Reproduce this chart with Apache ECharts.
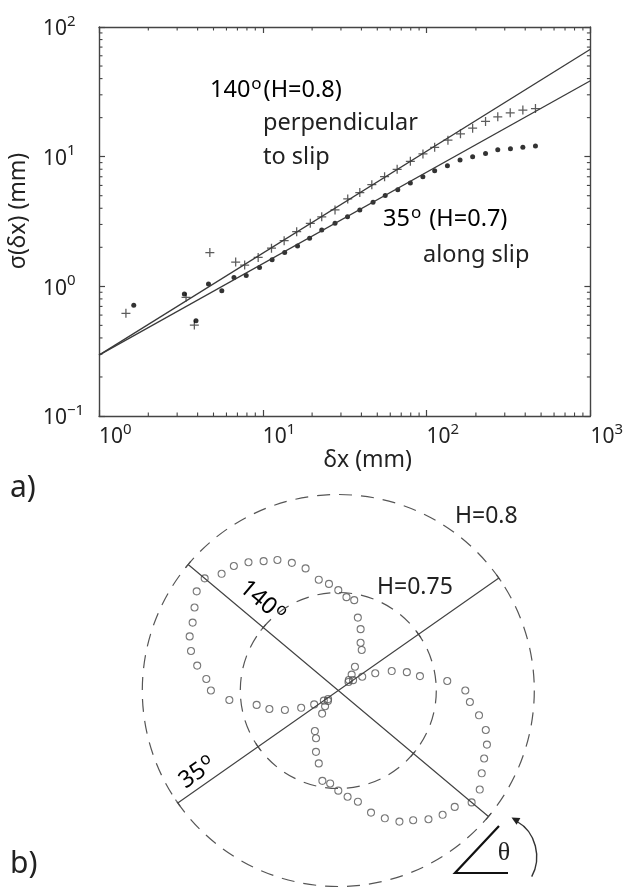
<!DOCTYPE html>
<html><head><meta charset="utf-8">
<script src="https://cdn.jsdelivr.net/npm/echarts@6/dist/echarts.min.js"></script>
<style>html,body{margin:0;padding:0;background:#fff}#c{width:626px;height:891px}</style>
</head><body><div id="c"></div>
<script>
// ---------- Panel a data ----------
const dx140 = [1.46, 3.40, 3.82, 4.75, 6.83, 7.75, 9.37, 11.3, 13.5, 16.1, 19.5, 22.9, 27.6, 33.0, 39.1, 46.3, 55.4, 66.1, 79.6, 95.0, 112, 135, 161, 191, 229, 272, 324, 387, 462];
const sig140 = [0.619, 0.823, 0.503, 1.82, 1.54, 1.46, 1.67, 1.97, 2.25, 2.64, 3.06, 3.44, 3.88, 4.72, 5.29, 6.08, 7.01, 7.99, 9.21, 10.5, 11.8, 13.4, 15.0, 16.6, 18.7, 20.3, 21.8, 22.9, 23.5];
const dx35 = [1.63, 3.32, 3.91, 4.66, 5.62, 6.67, 7.92, 9.55, 11.4, 13.6, 16.3, 19.3, 22.9, 27.6, 32.9, 39.1, 47.1, 55.9, 66.7, 79.6, 94.9, 112, 134, 160, 191, 229, 272, 325, 387, 462];
const sig35 = [0.714, 0.873, 0.543, 1.04, 0.925, 1.17, 1.21, 1.40, 1.60, 1.82, 2.05, 2.35, 2.72, 3.06, 3.44, 3.88, 4.45, 5.02, 5.56, 6.26, 7.01, 7.78, 8.52, 9.42, 9.99, 10.6, 11.3, 11.5, 11.8, 12.1];
const fit140 = [[1, 0.295], [1000, 67.3]];   // H = 0.8 line
const fit35 = [[1, 0.295], [1000, 38.5]];    // H = 0.7 line
const xMinorTicks = [2,3,4,5,6,7,8,9,20,30,40,50,60,70,80,90,200,300,400,500,600,700,800,900];
const yMinorTicks = [0.2,0.3,0.4,0.5,0.6,0.7,0.8,0.9,2,3,4,5,6,7,8,9,20,30,40,50,60,70,80,90];

// ---------- Panel b data ----------
const thetaDeg = [0,5,10,15,20,25,30,35,40,45,50,55,60,65,70,75,80,85,90,95,100,105,110,115,120,125,130,135,140,145,150,155,160,165,170,175,
                  180,185,190,195,200,205,210,215,220,225,230,235,240,245,250,255,260,265,270,275,280,285,290,295,300,305,310,315,320,325,330,335,340,345,350,355];
const hTheta = [0.7648,0.7558,0.7423,0.7362,0.7290,0.7208,0.7141,0.7092,0.7068,0.7076,0.7106,0.7148,0.7239,0.7269,0.7333,0.7385,0.7468,0.7478,
                0.7512,0.7546,0.7574,0.7645,0.7693,0.7735,0.7762,0.7799,0.7829,0.7842,0.7890,0.7882,0.7847,0.7820,0.7807,0.7778,0.7731,0.7676,
                0.7650,0.7558,0.7423,0.7364,0.7290,0.7209,0.7142,0.7090,0.7068,0.7075,0.7105,0.7144,0.7239,0.7269,0.7333,0.7385,0.7468,0.7476,
                0.7511,0.7544,0.7576,0.7645,0.7694,0.7738,0.7764,0.7802,0.7828,0.7840,0.7888,0.7881,0.7845,0.7821,0.7807,0.7779,0.7729,0.7674];
const hMin = 0.7, hMid = 0.75, hMax = 0.8;
const slipAngles = [35, 140];

// ---------- styling ----------
const FONT = 'Noto Sans';
const AX = '#444';
const supRich = {
  b: {fontSize: 21, fontFamily: FONT, color: '#222', lineHeight: 26, verticalAlign: 'bottom'},
  s: {fontSize: 15, fontFamily: FONT, color: '#222', lineHeight: 18, verticalAlign: 'top'}
};
function powLabel(v) {
  const e = Math.round(Math.log10(v));
  return '{b|10}{s|' + (e < 0 ? '\u2212' + (-e) : e) + '}';
}
const plusPath = 'path://M4.3,0H5.7V4.3H10V5.7H5.7V10H4.3V5.7H0V4.3H4.3Z';

function zip(a, b) { return a.map((v, i) => [v, b[i]]); }

function minorXRender(params, api) {
  const cs = params.coordSys;
  const x = api.coord([api.value(0), api.value(1)])[0];
  const st = {stroke: AX, lineWidth: 1.1};
  return {type: 'group', children: [
    {type: 'line', shape: {x1: x, y1: cs.y + cs.height, x2: x, y2: cs.y + cs.height - 3.5}, style: st},
    {type: 'line', shape: {x1: x, y1: cs.y, x2: x, y2: cs.y + 3.5}, style: st}
  ]};
}
function minorYRender(params, api) {
  const cs = params.coordSys;
  const y = api.coord([api.value(0), api.value(1)])[1];
  const st = {stroke: AX, lineWidth: 1.1};
  return {type: 'group', children: [
    {type: 'line', shape: {x1: cs.x, y1: y, x2: cs.x + 3.5, y2: y}, style: st},
    {type: 'line', shape: {x1: cs.x + cs.width, y1: y, x2: cs.x + cs.width - 3.5, y2: y}, style: st}
  ]};
}

const logX = {type: 'log', logBase: 10, min: 1, max: 1000, gridIndex: 0};
const logY = {type: 'log', logBase: 10, min: 0.1, max: 100, gridIndex: 0};
const axLine = {show: true, lineStyle: {color: AX, width: 1.4}};
const axTick = {show: true, inside: true, length: 6, lineStyle: {color: AX, width: 1.2}};

const degRich = {
  n: {fontSize: 23.5, fontFamily: FONT, color: '#222'},
  d: {fontSize: 17, fontFamily: FONT, color: '#222', padding: [0, 2, 12, 1]}
};

const option = {
  backgroundColor: '#fff',
  animation: false,
  grid: [{left: 99, right: 32, top: 27, bottom: 475, containLabel: false}],
  xAxis: [
    Object.assign({}, logX, {
      position: 'bottom', axisLine: axLine, axisTick: axTick, splitLine: {show: false},
      axisLabel: {show: true, formatter: powLabel, rich: supRich, margin: 6, align: 'left',
                  showMinLabel: true, showMaxLabel: true, hideOverlap: false},
      name: '\u03B4x (mm)', nameLocation: 'middle', nameGap: 33,
      nameTextStyle: {fontSize: 23, fontFamily: FONT, color: '#222', padding: [0, 0, 0, 46]}
    }),
    Object.assign({}, logX, {
      position: 'top', axisLine: axLine, axisTick: axTick, splitLine: {show: false}, axisLabel: {show: false}
    })
  ],
  yAxis: [
    Object.assign({}, logY, {
      position: 'left', axisLine: axLine, axisTick: axTick, splitLine: {show: false},
      axisLabel: {show: true, formatter: powLabel, rich: supRich, margin: 56, align: 'left',
                  showMinLabel: true, showMaxLabel: true, hideOverlap: false}
    }),
    Object.assign({}, logY, {
      position: 'right', axisLine: axLine, axisTick: axTick, splitLine: {show: false}, axisLabel: {show: false}
    })
  ],
  polar: {center: [338.3, 690.5], radius: 196},
  angleAxis: {type: 'value', min: 0, max: 360, startAngle: 0, clockwise: false,
              axisLine: {show: false}, axisTick: {show: false}, axisLabel: {show: false}, splitLine: {show: false}},
  radiusAxis: {type: 'value', min: hMin, max: hMax, interval: hMid - hMin,
               axisLine: {show: false}, axisTick: {show: false}, axisLabel: {show: false},
               splitLine: {show: true, lineStyle: {color: '#555', width: 1.2, type: [13, 9]}}},
  series: [
    {type: 'line', xAxisIndex: 0, yAxisIndex: 0, data: fit140, symbol: 'none', silent: true,
     lineStyle: {color: '#3a3a3a', width: 1.3}},
    {type: 'line', xAxisIndex: 0, yAxisIndex: 0, data: fit35, symbol: 'none', silent: true,
     lineStyle: {color: '#3a3a3a', width: 1.3}},
    {type: 'scatter', name: '140\u00B0 (H=0.8)', xAxisIndex: 0, yAxisIndex: 0, data: zip(dx140, sig140),
     symbol: plusPath, symbolSize: 9, itemStyle: {color: '#333'}},
    {type: 'scatter', name: '35\u00B0 (H=0.7)', xAxisIndex: 0, yAxisIndex: 0, data: zip(dx35, sig35),
     symbol: 'circle', symbolSize: 5, itemStyle: {color: '#000'}},
    {type: 'custom', xAxisIndex: 0, yAxisIndex: 0, silent: true, data: xMinorTicks.map(v => [v, 1]),
     renderItem: minorXRender},
    {type: 'custom', xAxisIndex: 0, yAxisIndex: 0, silent: true, data: yMinorTicks.map(v => [10, v]),
     renderItem: minorYRender},
    // panel b: slip direction diameters
    {type: 'line', coordinateSystem: 'polar', symbol: 'none', silent: true,
     data: [[hMax, slipAngles[0]], [hMin, slipAngles[0]], [hMax, slipAngles[0] + 180]],
     lineStyle: {color: '#444', width: 1.2}},
    {type: 'line', coordinateSystem: 'polar', symbol: 'none', silent: true,
     data: [[hMax, slipAngles[1]], [hMin, slipAngles[1]], [hMax, slipAngles[1] + 180]],
     lineStyle: {color: '#444', width: 1.2}},
    {type: 'scatter', coordinateSystem: 'polar', silent: true, symbol: 'rect', symbolSize: [1.2, 8],
     symbolRotate: function (v) { return v[1] % 180; },
     data: [].concat.apply([], slipAngles.map(a => [[hMax, a], [hMid, a], [hMid, a + 180], [hMax, a + 180]])),
     itemStyle: {color: '#444'}},
    // panel b: H(theta)
    {type: 'scatter', coordinateSystem: 'polar', name: 'H(\u03B8)',
     data: hTheta.map((h, i) => [h, thetaDeg[i]]),
     symbol: 'circle', symbolSize: 7,
     itemStyle: {color: 'rgba(255,255,255,0)', borderColor: '#555', borderWidth: 1.1}}
  ],
  graphic: [
    {type: 'text', x: 18, y: 211, rotation: Math.PI / 2,
     style: {text: '\u03C3(\u03B4x) (mm)', fontSize: 23, fontFamily: FONT, fill: '#222', align: 'center', verticalAlign: 'middle'}},
    {type: 'text', x: 210, y: 90, style: {text: '{n|140}{d|o}{n|(H=0.8)}', rich: degRich, verticalAlign: 'middle', align: 'left'}},
    {type: 'text', x: 263, y: 123, style: {text: 'perpendicular', fontSize: 23.5, fontFamily: FONT, fill: '#222', verticalAlign: 'middle'}},
    {type: 'text', x: 263, y: 157, style: {text: 'to slip', fontSize: 23.5, fontFamily: FONT, fill: '#222', verticalAlign: 'middle'}},
    {type: 'text', x: 383, y: 219, style: {text: '{n|35}{d|o}{n| (H=0.7)}', rich: degRich, verticalAlign: 'middle', align: 'left'}},
    {type: 'text', x: 423, y: 255, style: {text: 'along slip', fontSize: 23.5, fontFamily: FONT, fill: '#222', verticalAlign: 'middle'}},
    {type: 'text', x: 10, y: 488, style: {text: 'a)', fontSize: 30, fontFamily: FONT, fill: '#222', verticalAlign: 'middle'}},
    {type: 'text', x: 10, y: 864, style: {text: 'b)', fontSize: 30, fontFamily: FONT, fill: '#222', verticalAlign: 'middle'}},
    {type: 'text', x: 455, y: 516, style: {text: 'H=0.8', fontSize: 23, fontFamily: FONT, fill: '#222', verticalAlign: 'middle'}},
    {type: 'text', x: 377, y: 587, style: {text: 'H=0.75', fontSize: 23, fontFamily: FONT, fill: '#222', verticalAlign: 'middle'}},
    {type: 'text', x: 263, y: 602, rotation: -40 * Math.PI / 180,
     style: {text: '{n|140}{d|o}', rich: degRich, align: 'center', verticalAlign: 'middle'}},
    {type: 'text', x: 198, y: 772, rotation: 35 * Math.PI / 180,
     style: {text: '{n|35}{d|o}', rich: degRich, align: 'center', verticalAlign: 'middle'}},
    {type: 'polyline', shape: {points: [[499, 826], [455, 873], [508, 873]]}, style: {stroke: '#111', lineWidth: 2.2, fill: null}},
    {type: 'text', x: 504, y: 853, style: {text: '\u03B8', fontSize: 26, fontFamily: 'Liberation Serif', fill: '#222', align: 'center', verticalAlign: 'middle'}},
    {type: 'bezierCurve', shape: {x1: 531.7, y1: 876.7, cpx1: 542, cpy1: 858, cpx2: 536, cpy2: 832, x2: 517, y2: 821.5},
     style: {stroke: '#333', lineWidth: 1.4, fill: null}},
    {type: 'polygon', shape: {points: [[511.5, 817.5], [520.4, 818.0], [516.6, 824.8]]}, style: {fill: '#222'}}
  ]
};

const chart = echarts.init(document.getElementById('c'), null, {renderer: 'canvas'});
chart.setOption(option);
</script>
</body></html>
